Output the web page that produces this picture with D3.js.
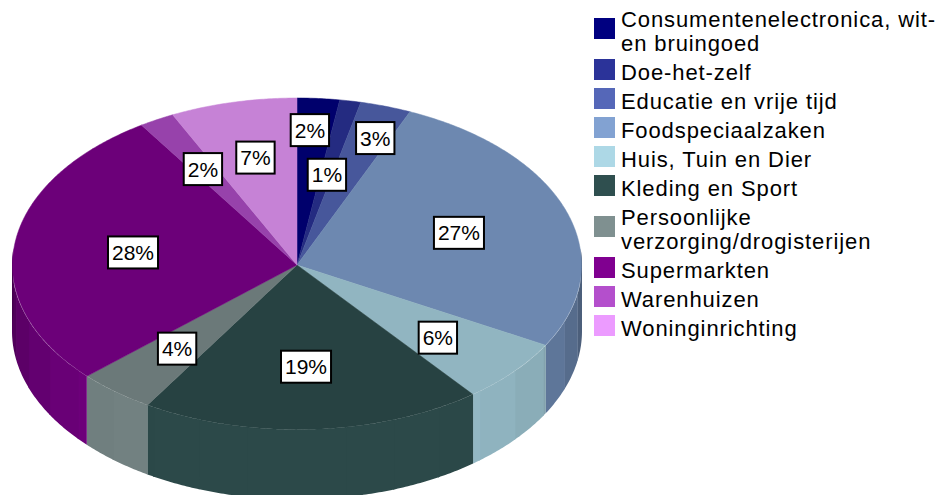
<!DOCTYPE html>
<html>
<head>
<meta charset="utf-8">
<script src="https://cdn.jsdelivr.net/npm/d3@7"></script>
<style>
  html, body { margin: 0; padding: 0; background: #fff; }
  svg { display: block; }
  text { font-family: "Liberation Sans", Arial, sans-serif; fill: #000; }
</style>
</head>
<body>
<div id="chart-area"></div>
<script>
/* Data */
var categories = [
  ["Consumentenelectronica, wit-", "en bruingoed"],
  ["Doe-het-zelf"],
  ["Educatie en vrije tijd"],
  ["Foodspeciaalzaken"],
  ["Huis, Tuin en Dier"],
  ["Kleding en Sport"],
  ["Persoonlijke", "verzorging/drogisterijen"],
  ["Supermarkten"],
  ["Warenhuizen"],
  ["Woninginrichting"]
];
var values = [2.4, 1.2, 2.9, 26.6, 6.3, 19.4, 4.4, 27.6, 2.0, 7.2];
var colors = ["#000080", "#2b3399", "#5567b8", "#82a2d2", "#add8e6",
              "#2f4f4f", "#7f9090", "#800090", "#b44fcc", "#ec9bff"];

/* How light the side wall of a slice is, compared to its legend colour */
var wallLight = [0.85, 0.85, 0.85, 0.8, 0.83, 0.9, 0.88, 0.85, 0.85, 0.85];

/* Label distance from the centre, as a share of the radius */
var labelRadiusX = [0.6, 0.56, 0.88, 0.6, 0.65, 0.56, 0.66, 0.58, 0.67, 0.65];
var labelRadiusY = [0.81, 0.55, 0.8, 0.6, 0.67, 0.61, 0.65, 0.6, 0.66, 0.66];

/* Setting the size of the page and the pie */
var width = 949, height = 495;
var cx = 297, cy = 265, rx = 285;
var ryBack = 167, ryFront = 164.5;
var lowerCy = 331, lowerRy = 168.5;
var facetStep = Math.PI / 18;

var svg = d3.select("#chart-area").append("svg")
  .attr("width", width)
  .attr("height", height);

var color = d3.scaleOrdinal().domain(d3.range(values.length)).range(colors);

var arcs = d3.pie().sort(null).startAngle(0).endAngle(2 * Math.PI)(values);

/* Angle 0 is the top of the ellipse, going clockwise.
   The front of the pie is a bit flatter than the back */
function topPoint(a) {
  var c = Math.cos(a);
  return [cx + (rx - 0.5) * Math.sin(a), cy - (c > 0 ? ryBack : ryFront) * c];
}
function upperPoint(a) {
  return [cx + rx * Math.sin(a), cy - ryFront * Math.cos(a)];
}
function lowerPoint(a) {
  return [cx + rx * Math.sin(a), lowerCy - lowerRy * Math.cos(a)];
}

function shade(c, k) {
  var r = d3.rgb(c);
  return d3.rgb(r.r * k, r.g * k, r.b * k).formatHex();
}

var line = d3.line();

function samples(a0, a1) {
  var n = Math.max(2, Math.ceil((a1 - a0) / 0.01));
  return d3.range(n + 1).map((i) => a0 + (a1 - a0) * i / n);
}

/* Side walls, cut in facets that get darker towards the edges */
var walls = svg.append("g").attr("class", "walls");
var wallStart = Math.PI / 2 - 0.1, wallEnd = 3 * Math.PI / 2 + 0.1;

arcs.forEach((d, i) => {
  var from = Math.max(d.startAngle, wallStart);
  var to = Math.min(d.endAngle, wallEnd);
  if (from >= to) return;

  var stops = [from];
  d3.range(Math.PI / 2 - facetStep, wallEnd + facetStep, facetStep).forEach((s) => {
    if (s > from + 1e-6 && s < to - 1e-6) stops.push(s);
  });
  stops.push(to);

  d3.pairs(stops).forEach((p, j) => {
    var mid = (p[0] + p[1]) / 2;
    var off = Math.min(1, Math.abs(mid - Math.PI) / (Math.PI / 2));
    var band = Math.floor(off * 9) / 9;
    var k = wallLight[i] + 0.03 - 0.35 * Math.pow(band, 3);
    /* overlap the next facet a little so no seam shows */
    var end = j < stops.length - 2 ? p[1] + 0.006 : p[1];
    var upper = samples(p[0], end).map(upperPoint);
    var lower = samples(p[0], end).reverse().map(lowerPoint);
    walls.append("path")
      .attr("d", line(upper.concat(lower)) + "Z")
      .attr("fill", shade(color(i), k));
  });
});

/* Top of the pie */
var tops = svg.append("g").attr("class", "tops");
arcs.forEach((d, i) => {
  var edge = samples(d.startAngle, d.endAngle).map(topPoint);
  tops.append("path")
    .attr("d", line([[cx, cy]].concat(edge)) + "Z")
    .attr("fill", shade(color(i), 0.84))
    .attr("stroke", shade(color(i), 0.84))
    .attr("stroke-width", 0.5);
});

/* Percent labels */
var labels = svg.append("g").attr("class", "labels");
arcs.forEach((d, i) => {
  var mid = (d.startAngle + d.endAngle) / 2;
  var x = cx + labelRadiusX[i] * rx * Math.sin(mid);
  var y = cy - labelRadiusY[i] * ryBack * Math.cos(mid);
  var g = labels.append("g").attr("transform", "translate(" + x + "," + y + ")");
  var box = g.append("rect");
  var t = g.append("text")
    .attr("text-anchor", "middle")
    .attr("y", 7.5)
    .attr("font-size", "21px")
    .text(Math.round(d.value) + "%");
  var w = t.node().getComputedTextLength() + 8;
  box.attr("x", -w / 2)
    .attr("y", -16)
    .attr("width", w)
    .attr("height", 32)
    .attr("fill", "#fff")
    .attr("stroke", "#000")
    .attr("stroke-width", 2);
});

/* Legend */
var legend = svg.append("g").attr("class", "legend");
var rowY = 2;
categories.forEach((lines, i) => {
  var rowH = 29 + (lines.length - 1) * 24;
  var mid = rowY + rowH / 2;
  legend.append("rect")
    .attr("x", 594)
    .attr("y", mid - 10.5)
    .attr("width", 21)
    .attr("height", 21)
    .attr("fill", color(i));
  lines.forEach((s, j) => {
    legend.append("text")
      .attr("x", 621)
      .attr("y", mid + 10 - (lines.length - 1) * 12 + j * 24)
      .attr("font-size", "22px")
      .attr("letter-spacing", "0.9px")
      .text(s);
  });
  rowY += rowH;
});
</script>
</body>
</html>
